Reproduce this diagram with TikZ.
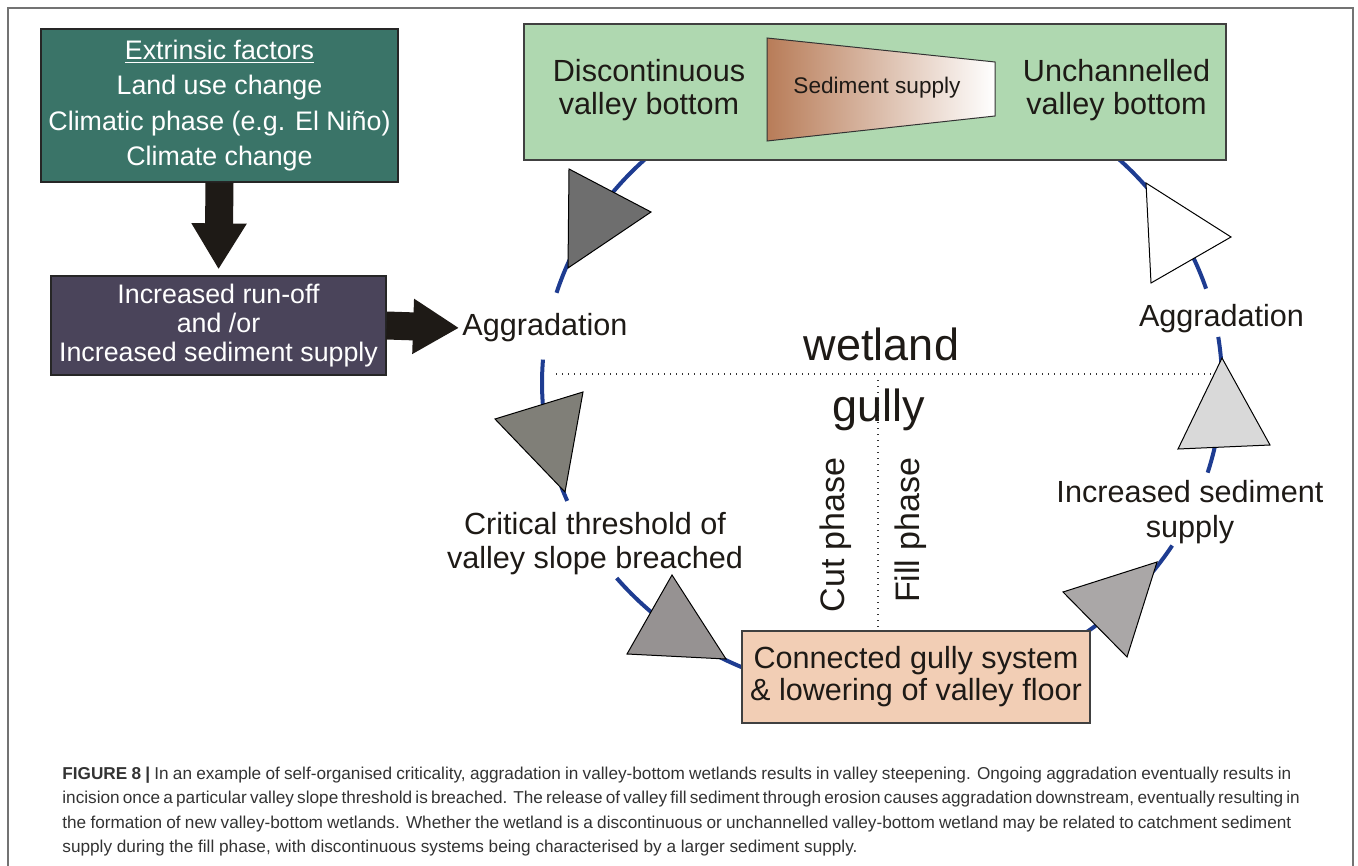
\documentclass[tikz,border=0pt]{standalone}
\usepackage{fontspec}
\setmainfont{Liberation Sans}
\usetikzlibrary{arrows.meta}

\definecolor{tealbox}{RGB}{58,116,104}
\definecolor{slatebox}{RGB}{74,68,90}
\definecolor{valleygreen}{RGB}{175,216,176}
\definecolor{gullypink}{RGB}{242,206,181}
\definecolor{cycleblue}{RGB}{30,60,145}
\definecolor{inkdark}{RGB}{30,26,22}
\definecolor{sedbrown}{RGB}{184,124,88}

\tikzset{
  factorbox/.style={draw=black!85, line width=0.6pt, text=white, align=center, inner sep=0pt},
  cyclebox/.style={draw=black!75, line width=0.6pt, inner sep=0pt, text=inkdark, align=center},
  cyclelabel/.style={text=inkdark, align=center, inner sep=0pt, font=\fontsize{15.3}{17}\selectfont},
  wedge/.style={draw=black, line width=0.5pt},
  cycleline/.style={cycleblue, line width=2pt},
  divider/.style={black!80, line width=0.7pt, dash pattern=on 0.7pt off 2.3pt},
  fatarrow/.style={inkdark, line width=14pt, -{Triangle[length=23pt,width=26pt]}},
  capline/.style={anchor=base west, inner sep=0pt, text=black!80, font=\fontsize{8.6}{12.25}\selectfont},
}

\begin{document}
\begin{tikzpicture}[x=0.5pt, y=-0.5pt]
  \useasboundingbox (0,0) rectangle (1358,866);
  % outer frame
  \draw[black!55, line width=0.8pt] (8,866) -- (8,8) -- (1353,8) -- (1353,866);

  % driving factors
  \node[factorbox, fill=tealbox, minimum width=178.5pt, minimum height=76.5pt,
        font=\fontsize{13.4}{17.6}\selectfont] (extr) at (219.5,105.5)
        {\underline{Extrinsic factors}\\Land use change\\Climatic phase (e.g. El Niño)\\Climate change};
  \node[factorbox, fill=slatebox, minimum width=167.5pt, minimum height=49.5pt,
        font=\fontsize{13.4}{14.5}\selectfont] (runoff) at (218.5,325.5)
        {Increased run-off\\and /or\\Increased sediment supply};

  % the cycle
  \coordinate (ctr) at (882,383);
  \draw[cycleline] (ctr) ++(196.8:340 and 312) arc[start angle=196.8, end angle=342.4, x radius=340, y radius=312];
  \draw[cycleline] (ctr) ++(184.3:340 and 312) arc[start angle=184.3, end angle=157.8, x radius=340, y radius=312];
  \draw[cycleline] (ctr) ++(141.3:340 and 312) arc[start angle=141.3, end angle=31.4, x radius=340, y radius=312];
  \draw[cycleline] (ctr) ++(16.7:340 and 312) arc[start angle=16.7, end angle=-8.5, x radius=340, y radius=312];

  \node[cyclebox, fill=valleygreen, minimum width=351pt, minimum height=68pt] (valley) at (875,92) {};
  \shadedraw[left color=sedbrown, right color=white, draw=black!80, line width=0.5pt]
    (767,38) -- (995,62) -- (995,116) -- (767,141) -- cycle;
  \node[cyclelabel, font=\fontsize{11.3}{13}\selectfont] (sed) at (877,88) {Sediment supply};
  \node[cyclelabel, font=\fontsize{15.3}{16.5}\selectfont] (disc) at (649,90) {Discontinuous\\valley bottom};
  \node[cyclelabel, font=\fontsize{15.3}{16.5}\selectfont] (unch) at (1116.5,90) {Unchannelled\\valley bottom};

  \node[cyclebox, fill=gullypink, minimum width=174pt, minimum height=46pt,
        font=\fontsize{15.3}{16}\selectfont] (gully) at (916,677)
        {Connected gully system\\\& lowering of valley floor};

  % wedges on the cycle
  \draw[wedge, fill=black!57] (569,169) -- (651,212) -- (568,268) -- cycle;
  \draw[wedge, fill={rgb,255:red,128;green,127;blue,120}] (583,392) -- (495,419) -- (565,492) -- cycle;
  \draw[wedge, fill={rgb,255:red,150;green,146;blue,146}] (672,575) -- (627,654) -- (726,659) -- cycle;
  \draw[wedge, fill={rgb,255:red,170;green,167;blue,167}] (1063,592) -- (1157,562) -- (1127,657) -- cycle;
  \draw[wedge, fill=black!15] (1222,358) -- (1178,449) -- (1270,445) -- cycle;
  \draw[wedge, fill=white] (1146,183) -- (1231,237) -- (1151,283) -- cycle;

  % labels round the cycle
  \node[cyclelabel] (aggl) at (545,328) {Aggradation};
  \node[cyclelabel] (aggr) at (1221.5,319) {Aggradation};
  \node[cyclelabel] (crit) at (595,544) {Critical threshold of\\valley slope breached};
  \node[cyclelabel, font=\fontsize{15.3}{17.5}\selectfont] (incr) at (1190,512) {Increased sediment\\supply};

  % wetland / gully split
  \coordinate (wl) at (556,374);
  \coordinate (wr) at (1213,374);
  \coordinate (split) at (878,380);
  \draw[divider] (wl) -- (wr);
  \draw[divider] (split) -- (split |- gully.north);
  \node[cyclelabel, font=\fontsize{22.5}{24}\selectfont] (wet) at (881.5,344) {wetland};
  \node[cyclelabel, font=\fontsize{22.5}{24}\selectfont] (gul) at (878.5,410) {gully};
  \node[cyclelabel, font=\fontsize{17}{19}\selectfont, rotate=90, anchor=east] (cut) at (836,457) {Cut phase};
  \node[cyclelabel, font=\fontsize{17}{19}\selectfont, rotate=90, anchor=east] (fill) at (911,457) {Fill phase};

  % forcing arrows
  \draw[fatarrow, shorten >=3pt] (extr.south) -- (runoff.north);
  \draw[fatarrow, shorten >=1.5pt] (runoff.east) -- (aggl.west);

  % caption, one node per line
  \node[capline] (cap1) at (62,779) {\makebox[614.5pt][s]{\textbf{FIGURE 8 |} In an example of self-organised criticality, aggradation in valley-bottom wetlands results in valley steepening. Ongoing aggradation eventually results in}};
  \node[capline] (cap2) at (62,803.5) {\makebox[614.5pt][s]{incision once a particular valley slope threshold is breached. The release of valley fill sediment through erosion causes aggradation downstream, eventually resulting in}};
  \node[capline] (cap3) at (62,828) {\makebox[614.5pt][s]{the formation of new valley-bottom wetlands. Whether the wetland is a discontinuous or unchannelled valley-bottom wetland may be related to catchment sediment}};
  \node[capline] (cap4) at (62,852.5) {supply during the fill phase, with discontinuous systems being characterised by a larger sediment supply.};
\end{tikzpicture}
\end{document}
